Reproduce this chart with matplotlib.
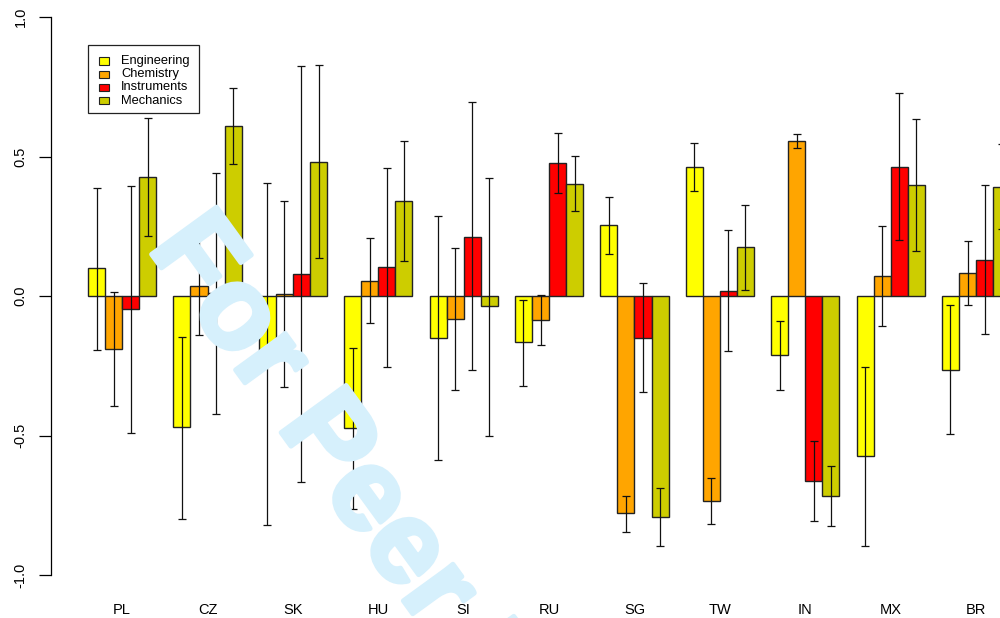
import numpy as np
import matplotlib
matplotlib.use('Agg')
import matplotlib.pyplot as plt
import matplotlib.patheffects as pe
from matplotlib.patches import Rectangle

plt.rcParams['font.family'] = ['Liberation Sans', 'DejaVu Sans']

countries = ['PL', 'CZ', 'SK', 'HU', 'SI', 'RU', 'SG', 'TW', 'IN', 'MX', 'BR']
series = ['Engineering', 'Chemistry', 'Instruments', 'Mechanics']
colors = ['#FFFF00', '#FFA500', '#FF0000', '#CDCD00']

eng = [0.099, -0.470, -0.208, -0.473, -0.152, -0.166, 0.253, 0.461, -0.212, -0.575, -0.264]
eng_lo = [-0.192, -0.799, -0.822, -0.765, -0.589, -0.323, 0.151, 0.377, -0.336, -0.895, -0.496]
eng_hi = [0.388, -0.146, 0.406, -0.185, 0.287, -0.013, 0.356, 0.549, -0.088, -0.255, -0.031]

chem = [-0.189, 0.037, 0.006, 0.055, -0.082, -0.087, -0.779, -0.735, 0.555, 0.071, 0.083]
chem_lo = [-0.395, -0.139, -0.326, -0.097, -0.338, -0.174, -0.845, -0.817, 0.532, -0.108, -0.031]
chem_hi = [0.013, 0.216, 0.339, 0.208, 0.173, 0.005, -0.718, -0.652, 0.582, 0.250, 0.198]

inst = [-0.048, 0.010, 0.079, 0.103, 0.211, 0.476, -0.152, 0.018, -0.663, 0.463, 0.128]
inst_lo = [-0.491, -0.422, -0.668, -0.254, -0.265, 0.368, -0.345, -0.198, -0.808, 0.202, -0.137]
inst_hi = [0.395, 0.440, 0.824, 0.459, 0.695, 0.585, 0.048, 0.236, -0.519, 0.727, 0.399]

mech = [0.428, 0.609, 0.481, 0.342, -0.036, 0.403, -0.791, 0.175, -0.716, 0.398, 0.391]
mech_lo = [0.215, 0.472, 0.136, 0.124, -0.502, 0.303, -0.897, 0.023, -0.823, 0.163, 0.240]
mech_hi = [0.638, 0.746, 0.828, 0.554, 0.424, 0.503, -0.689, 0.327, -0.610, 0.633, 0.544]

vals = [eng, chem, inst, mech]
los = [eng_lo, chem_lo, inst_lo, mech_lo]
his = [eng_hi, chem_hi, inst_hi, mech_hi]

W, H = 1000, 618
fig = plt.figure(figsize=(W / 100, H / 100), dpi=100)
ax = fig.add_axes([0.0511, 0.0335, 0.996, 0.975])

# watermark behind everything
wm = '#D6F0FC'
fig.text(147 / W, 1 - 248 / H, 'For Peer Review', fontsize=84, fontweight='bold',
         color=wm, rotation=-54, rotation_mode='anchor',
         ha='left', va='baseline', zorder=0,
         path_effects=[pe.withStroke(linewidth=3.5, foreground=wm)])
ax.set_facecolor('none')

g = np.arange(len(countries))
for s in range(4):
    left = 1 + 5 * g + s
    v = np.array(vals[s])
    ax.bar(left, v, width=1, align='edge', color=colors[s],
           edgecolor='#222222', linewidth=1.0, zorder=2)
    lo = np.array(los[s])
    hi = np.array(his[s])
    ax.errorbar(left + 0.5, (lo + hi) / 2, yerr=(hi - lo) / 2, fmt='none',
                ecolor='#111111', elinewidth=0.9, capsize=2.6, capthick=0.9,
                zorder=3)

ax.set_xlim(-1.16, 57.16)
ax.set_ylim(-1.08, 1.08)
for sp in ['top', 'right', 'bottom']:
    ax.spines[sp].set_visible(False)
ax.spines['left'].set_bounds(-1, 1)
ax.spines['left'].set_linewidth(0.9)
ax.set_yticks([-1.0, -0.5, 0.0, 0.5, 1.0])
ax.set_yticklabels(['-1.0', '-0.5', '0.0', '0.5', '1.0'], rotation=90,
                   va='center', fontsize=10.5)
ax.tick_params(axis='y', length=8.5, width=0.9, pad=8.5)
ax.set_xticks(3 + 5 * g)
ax.set_xticklabels(countries, fontsize=10.5)
ax.tick_params(axis='x', length=0, pad=4)

# legend drawn by hand, R style
fig.add_artist(Rectangle((88 / W, 1 - 113 / H), 111 / W, 68 / H, transform=fig.transFigure,
                         facecolor='white', edgecolor='#222222', linewidth=0.9, zorder=5))
rows = [61, 74.5, 87.5, 100.5]
for c, lab, yy in zip(colors, series, rows):
    fig.add_artist(Rectangle((99 / W, 1 - (yy + 3.5) / H), 10 / W, 7 / H,
                             transform=fig.transFigure, facecolor=c,
                             edgecolor='#222222', linewidth=0.8, zorder=6))
    fig.text(121 / W, 1 - yy / H, lab, fontsize=9.3, va='center', ha='left', zorder=6)

fig.savefig('out.png', dpi=100)
